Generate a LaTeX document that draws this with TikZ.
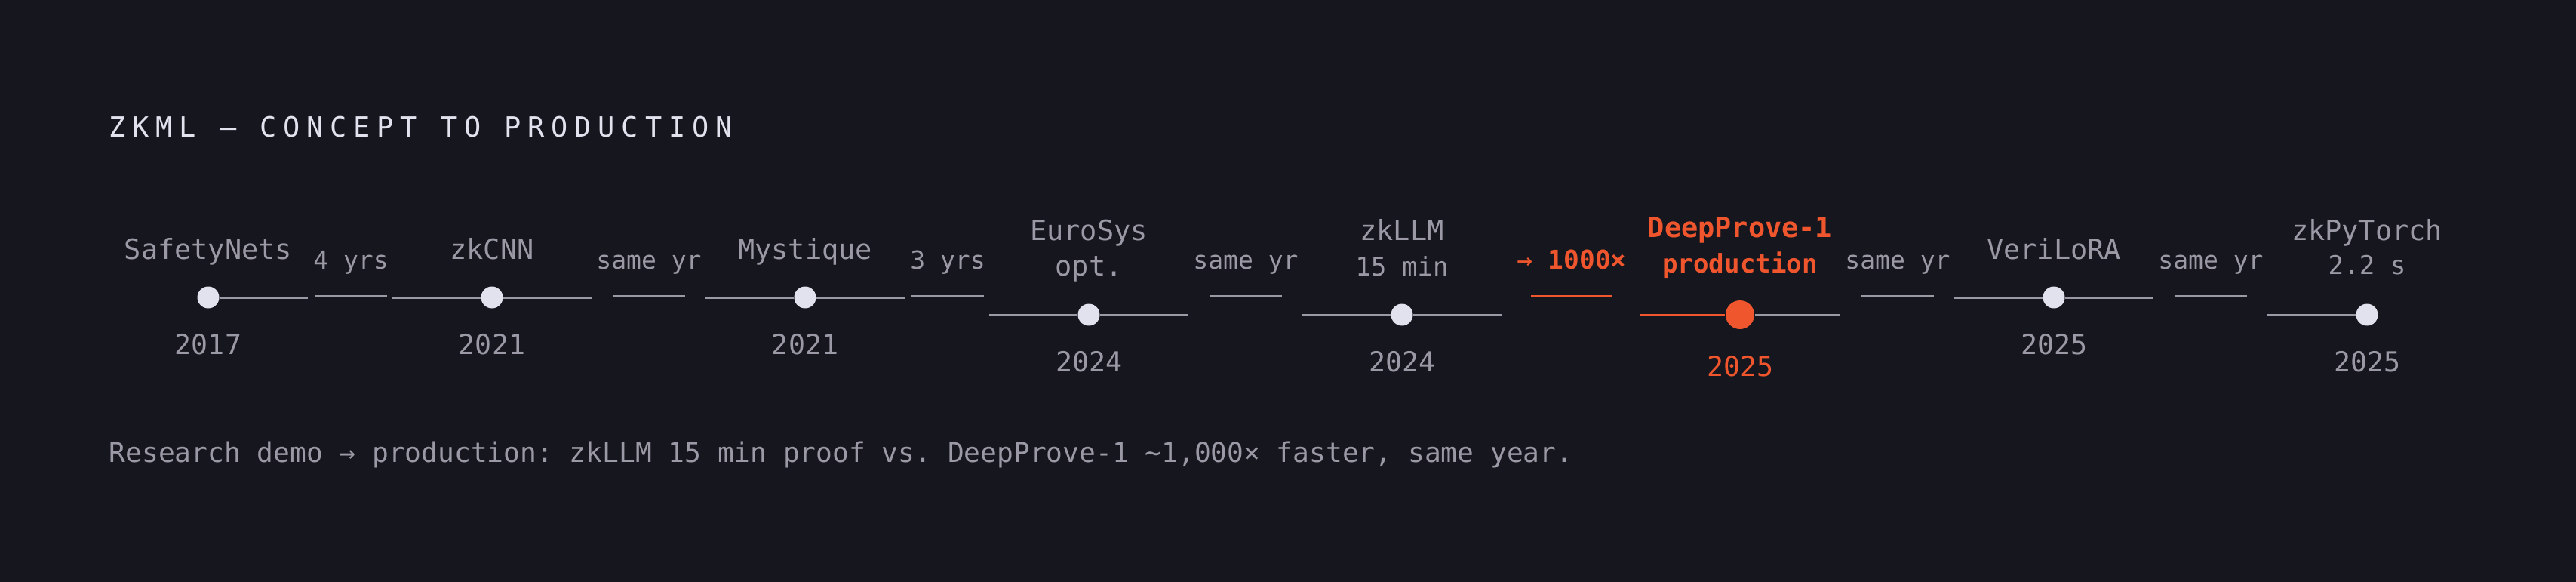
\documentclass[tikz,border=0pt]{standalone}
\usepackage{fontspec}
\setmonofont{DejaVu Sans Mono}
\newfontfamily\spacedmono[LetterSpace=24]{DejaVu Sans Mono}
\usetikzlibrary{calc}
\definecolor{bg}{RGB}{22,22,30}
\definecolor{ink}{RGB}{154,153,165}
\definecolor{pale}{RGB}{226,225,238}
\definecolor{hot}{RGB}{240,86,46}
\tikzset{
    dot/.style = {circle, fill=pale, inner sep=0pt, minimum size=0.29cm},
    track/.style = {draw=ink, line width=0.03cm},
    gap/.style = {inner sep=0pt, minimum height=0pt, minimum width=0.95cm},
    tag/.style = {anchor=base, inner sep=0pt, text=ink, font=\ttfamily\fontsize{10.5}{12}\selectfont},
    sub/.style = {anchor=base, inner sep=0pt, text=ink, font=\ttfamily\fontsize{9.7}{12}\selectfont},
    yr/.style = {anchor=base, inner sep=0pt, text=ink, font=\ttfamily\fontsize{10.4}{12}\selectfont},
    span/.style = {anchor=base, inner sep=0pt, text=ink, font=\ttfamily\fontsize{9.4}{12}\selectfont}
}

\begin{document}
\begin{tikzpicture}
    \path [fill=bg, use as bounding box] (0,0) rectangle (34.14,-7.71);
    \node [anchor=base west, inner sep=0pt, text=pale, font=\spacedmono\fontsize{10.5}{12}\selectfont] (title) at (1.44,-1.82) {ZKML — CONCEPT TO PRODUCTION};
    % milestones
    \node [dot] (sn) at (2.76,-3.94) {};
    \node [dot, right of=sn, node distance=3.76cm] (cnn) {};
    \node [dot, right of=cnn, node distance=4.15cm] (myst) {};
    \node [dot, right of=myst, node distance=3.76cm, yshift=-0.23cm] (euro) {};
    \node [dot, right of=euro, node distance=4.15cm] (llm) {};
    \node [dot, fill=hot, minimum size=0.38cm, right of=llm, node distance=4.48cm] (dp) {};
    \node [dot, right of=dp, node distance=4.16cm, yshift=0.23cm] (lora) {};
    \node [dot, right of=lora, node distance=4.15cm, yshift=-0.23cm] (pyt) {};
    \draw [track] (sn.east) -- ($(sn)+(1.32,0)$);
    \draw [track] ($(cnn)+(-1.32,0)$) -- (cnn.west) (cnn.east) -- ($(cnn)+(1.32,0)$);
    \draw [track] ($(myst)+(-1.32,0)$) -- (myst.west) (myst.east) -- ($(myst)+(1.32,0)$);
    \draw [track] ($(euro)+(-1.32,0)$) -- (euro.west) (euro.east) -- ($(euro)+(1.32,0)$);
    \draw [track] ($(llm)+(-1.32,0)$) -- (llm.west) (llm.east) -- ($(llm)+(1.32,0)$);
    \draw [track, draw=hot] ($(dp)+(-1.32,0)$) -- (dp.west);
    \draw [track] (dp.east) -- ($(dp)+(1.32,0)$);
    \draw [track] ($(lora)+(-1.32,0)$) -- (lora.west) (lora.east) -- ($(lora)+(1.32,0)$);
    \draw [track] ($(pyt)+(-1.32,0)$) -- (pyt.west);
    % labels
    \node [above of=sn, node distance=0.51cm, tag] (snname) {SafetyNets};
    \node [below of=sn, node distance=0.75cm, yr] (snyear) {2017};
    \node [above of=cnn, node distance=0.51cm, tag] (cnnname) {zkCNN};
    \node [below of=cnn, node distance=0.75cm, yr] (cnnyear) {2021};
    \node [above of=myst, node distance=0.51cm, tag] (mystname) {Mystique};
    \node [below of=myst, node distance=0.75cm, yr] (mystyear) {2021};
    \node [above of=euro, node distance=0.98cm, tag] (euroname) {EuroSys};
    \node [above of=euro, node distance=0.52cm, tag] (eurosub) {opt.};
    \node [below of=euro, node distance=0.75cm, yr] (euroyear) {2024};
    \node [above of=llm, node distance=0.98cm, tag] (llmname) {zkLLM};
    \node [above of=llm, node distance=0.52cm, sub] (llmsub) {15 min};
    \node [below of=llm, node distance=0.75cm, yr] (llmyear) {2024};
    \node [above of=dp, node distance=1.02cm, tag, text=hot, font=\ttfamily\bfseries\fontsize{10.5}{12}\selectfont] (dpname) {DeepProve-1};
    \node [above of=dp, node distance=0.55cm, sub, text=hot, font=\ttfamily\bfseries\fontsize{9.7}{12}\selectfont] (dpsub) {production};
    \node [below of=dp, node distance=0.81cm, yr, text=hot] (dpyear) {2025};
    \node [above of=lora, node distance=0.51cm, tag] (loraname) {VeriLoRA};
    \node [below of=lora, node distance=0.75cm, yr] (lorayear) {2025};
    \node [above of=pyt, node distance=0.99cm, tag] (pytname) {zkPyTorch};
    \node [above of=pyt, node distance=0.53cm, sub] (pytsub) {2.2 s};
    \node [below of=pyt, node distance=0.75cm, yr] (pytyear) {2025};
    % gaps between milestones
    \node [gap] (g1) at (4.65,-3.93) {};
    \node [gap] (g2) at (8.60,-3.93) {};
    \node [gap] (g3) at (12.56,-3.93) {};
    \node [gap] (g4) at (16.51,-3.93) {};
    \node [gap, minimum width=1.07cm] (g5) at (20.83,-3.93) {};
    \node [gap] (g6) at (25.15,-3.93) {};
    \node [gap] (g7) at (29.30,-3.93) {};
    \draw [track] (g1.west) -- (g1.east) (g2.west) -- (g2.east) (g3.west) -- (g3.east) (g4.west) -- (g4.east) (g6.west) -- (g6.east) (g7.west) -- (g7.east);
    \draw [track, draw=hot] (g5.west) -- (g5.east);
    \node [above of=g1, node distance=0.37cm, span] (g1text) {4 yrs};
    \node [above of=g2, node distance=0.37cm, span] (g2text) {same yr};
    \node [above of=g3, node distance=0.37cm, span] (g3text) {3 yrs};
    \node [above of=g4, node distance=0.37cm, span] (g4text) {same yr};
    \node [above of=g5, node distance=0.37cm, span, text=hot, font=\ttfamily\fontsize{9.8}{12}\selectfont] (g5text) {→ \textbf{1000×}};
    \node [above of=g6, node distance=0.37cm, span] (g6text) {same yr};
    \node [above of=g7, node distance=0.37cm, span] (g7text) {same yr};
    \node [anchor=base west, inner sep=0pt, text=ink, font=\ttfamily\fontsize{10.3}{12}\selectfont] (note) at (1.44,-6.12) {Research demo → production: zkLLM 15 min proof vs. DeepProve-1 \textasciitilde1,000× faster, same year.};
\end{tikzpicture}
\end{document}
